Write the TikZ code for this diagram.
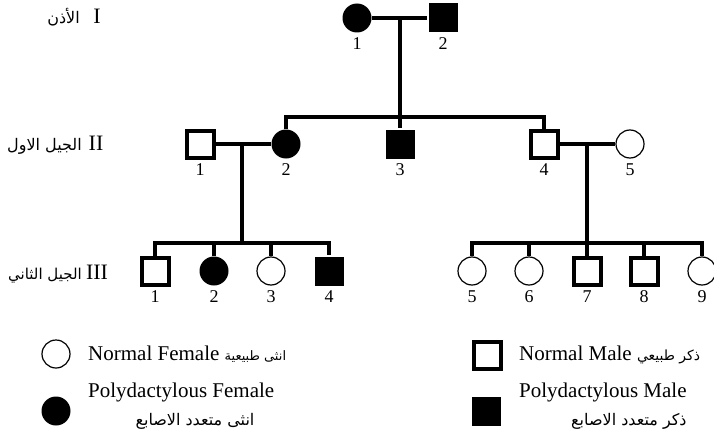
\documentclass[tikz,border=0pt]{standalone}
\usepackage{fontspec}
\setmainfont{Liberation Serif}
\newfontfamily\arabicfont[Script=Arabic]{DejaVu Sans}
\TeXXeTstate=1
\tikzset{
  female/.style={circle,draw,line width=1.2pt,minimum size=28pt,inner sep=0pt},
  male/.style={rectangle,draw,line width=4pt,minimum size=27pt,inner sep=0pt},
  ill/.style={fill,draw=none,minimum size=29pt},
  line/.style={line width=4pt},
  num/.style={label={[font=\fontsize{18}{20}\selectfont,yshift=-26pt]center:#1}},
  gen/.style={font=\fontsize{22}{24}\selectfont,inner sep=0pt,anchor=base},
  txt/.style={font=\fontsize{21}{23}\selectfont,inner sep=0pt,anchor=base west},
  ar/.style={font=\fontsize{16}{18}\selectfont\arabicfont,inner sep=0pt}
}
\newcommand{\gI}{18}
\newcommand{\gII}{144}
\newcommand{\gIII}{271}

\begin{document}
\begin{tikzpicture}[x=1pt,y=-1pt]
  \useasboundingbox (0,0) rectangle (714,444);
  % generation I
  \node[female,ill,num=1] (i1) at (357,\gI) {};
  \node[male,ill,num=2] (i2) at (443,\gI) {};
  \coordinate (s1) at (400,\gI);
  \coordinate (s2) at (400,117);
  % generation II
  \node[male,num=1] (ii1) at (200,\gII) {};
  \node[female,ill,num=2] (ii2) at (286,\gII) {};
  \node[male,ill,num=3] (ii3) at (400,\gII) {};
  \node[male,num=4] (ii4) at (544,\gII) {};
  \node[female,num=5] (ii5) at (630,\gII) {};
  \coordinate (d1) at (242,\gII);
  \coordinate (d2) at (587,\gII);
  \coordinate (sl) at (242,243);
  \coordinate (sr) at (587,243);
  % generation III
  \node[male,num=1] (iii1) at (155,\gIII) {};
  \node[female,ill,num=2] (iii2) at (214,\gIII) {};
  \node[female,num=3] (iii3) at (271,\gIII) {};
  \node[male,ill,num=4] (iii4) at (329,\gIII) {};
  \node[female,num=5] (iii5) at (472,\gIII) {};
  \node[female,num=6] (iii6) at (529,\gIII) {};
  \node[male,num=7] (iii7) at (587,\gIII) {};
  \node[male,num=8] (iii8) at (644,\gIII) {};
  \node[female,num=9] (iii9) at (702,\gIII) {};

  % connectors
  \draw[line] (i1) -- (i2);
  \draw[line] (s1) -- (s2);
  \foreach \n in {ii2,ii3,ii4} \draw[line] (\n) |- (s2);
  \draw[line] (ii1) -- (ii2);
  \draw[line] (ii4) -- (ii5);
  \draw[line] (d1) -- (sl);
  \draw[line] (d2) -- (sr);
  \foreach \n in {iii1,iii2,iii3,iii4} \draw[line] (\n) |- (sl);
  \foreach \n in {iii5,iii6,iii7,iii8,iii9} \draw[line] (\n) |- (sr);

  % generation names
  \node[gen] (g1) at (97,24) {I};
  \node[ar,anchor=base east] (g1a) at (80,24) {\beginR الأذن\endR};
  \node[gen] (g2) at (96,150) {II};
  \node[ar,anchor=base east] (g2a) at (82,150) {\beginR الجيل الاول\endR};
  \node[gen] (g3) at (97,279) {III};
  \node[ar,anchor=base east,font=\fontsize{15}{17}\selectfont\arabicfont] (g3a) at (82,279) {\beginR الجيل الثاني\endR};

  % key
  \node[female] (kf1) at (56,354) {};
  \node[txt] (kt1) at (88,360) {Normal Female {\arabicfont\fontsize{13}{15}\selectfont\beginR انثى طبيعية\endR}};
  \node[female,ill] (kf2) at (56,411) {};
  \node[txt] (kt2) at (88,397) {Polydactylous Female};
  \node[ar,anchor=base] (kt2a) at (195,425) {\beginR انثى متعدد الاصابع\endR};
  \node[male] (km1) at (487,355) {};
  \node[txt] (kt3) at (519,360) {Normal Male {\arabicfont\fontsize{14}{16}\selectfont\beginR ذكر طبيعي\endR}};
  \node[male,ill] (km2) at (486,411) {};
  \node[txt] (kt4) at (519,397) {Polydactylous Male};
  \node[ar,anchor=base east] (kt4a) at (kt4.east |- 0,425) {\beginR ذكر متعدد الاصابع\endR};
\end{tikzpicture}
\end{document}
